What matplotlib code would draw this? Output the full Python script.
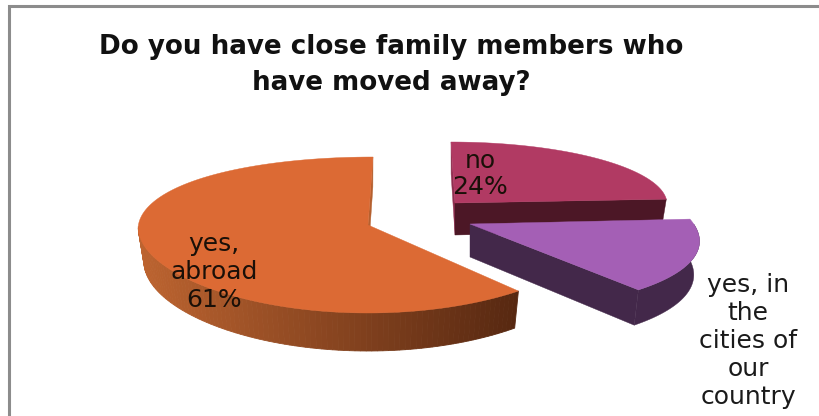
import numpy as np
import matplotlib
matplotlib.use("Agg")
import matplotlib.pyplot as plt
from matplotlib.colors import to_rgb

title = "Do you have close family members who\nhave moved away?"
slices = ["no", "yes, in the cities of our country", "yes, abroad"]
values = [24, 15, 61]

top_colors = ["#b13a63", "#a45fb5", "#dc6a34"]
wall_colors = ["#4c1726", "#43284a", "#b5602f"]
inner_colors = ["#8f2f50", "#43284a", "#b5602f"]

# apex x, apex y, radius, x perspective, skew, height up, height down, depth, depth change
geom = [
    (455, 203, 212, 0.0, -4, 61, 61, 32, 0),
    (470, 224, 223.7, 0.235, 0, 70, 87.5, 33, 3),
    (368, 225, 229.6, 0.036, 5, 68, 88, 34, 4),
]

fig = plt.figure(figsize=(8.19, 4.16), dpi=100)
ax = fig.add_axes([0, 0, 1, 1])
ax.set_xlim(0, 819)
ax.set_ylim(416, 0)
ax.axis("off")

# grey chart border, runs off the picture right and bottom
ax.plot([8.5, 8.5, 830], [430, 5.5, 5.5], color="#8c8c8c", lw=2.2, solid_joinstyle="miter")


def project(g, theta, bottom=False):
    ax_, ay, r, k, sk, ht, hb, d0, d1 = g
    u = np.sin(theta)
    v = np.cos(theta)
    x = ax_ + u * r * (1 - k * v) + sk * np.maximum(v, 0)
    y = ay - (ht + hb) / 2 * v + (hb - ht) / 2 * v ** 2
    if bottom:
        x = ax_ + (x - ax_) * 0.975
        y = y + d0 - d1 * v
    return x, y


def apex(g, bottom=False):
    if bottom:
        return g[0], g[1] + g[7]
    return g[0], g[1]


def cut_wall(g, theta, color, z):
    t = np.array([theta])
    x0, y0 = project(g, t)
    x1, y1 = project(g, t, bottom=True)
    a0 = apex(g)
    a1 = apex(g, True)
    ax.fill([a0[0], x0[0], x1[0], a1[0]], [a0[1], y0[0], y1[0], a1[1]],
            color=color, lw=0.3, zorder=z)


bounds = np.radians(np.concatenate([[0], np.cumsum(values)]) * 3.6)

for i in range(len(values)):
    g = geom[i]
    z = 2 + i * 3
    th = np.linspace(bounds[i], bounds[i + 1], 160)

    # walls at the cut edges
    if i == 0:
        cut_wall(g, bounds[0], inner_colors[0], z)
        cut_wall(g, bounds[1], wall_colors[0], z)
    elif i == 1:
        cut_wall(g, bounds[2], wall_colors[1], z)
    else:
        cut_wall(g, bounds[3], inner_colors[2], z)

    # rim, only the part turned to the viewer
    if i > 0:
        front = th[np.cos(th) < 0.0]
        xt, yt = project(g, front)
        xb, yb = project(g, front, bottom=True)
        if i == 1:
            ax.fill(np.r_[xt, xb[::-1]], np.r_[yt, yb[::-1]], color=wall_colors[1], lw=0.3, zorder=z)
        else:
            c_left = np.array(to_rgb("#bd6430"))
            c_right = np.array(to_rgb("#572811"))
            for j in range(len(front) - 1):
                f = np.clip((xt[j] - 137) / (520 - 137), 0, 1)
                ax.fill([xt[j], xt[j + 1], xb[j + 1], xb[j]], [yt[j], yt[j + 1], yb[j + 1], yb[j]],
                        color=c_left + (c_right - c_left) * f, lw=0.6, zorder=z)

    # top surface
    xt, yt = project(g, th)
    a0 = apex(g)
    ax.fill(np.r_[a0[0], xt], np.r_[a0[1], yt], color=top_colors[i], lw=0.3, zorder=z + 1)

font = "DejaVu Sans"
ax.text(391, 65, title, ha="center", va="center", fontsize=18.8, fontweight="bold",
        family=font, color="#111111", linespacing=1.5, zorder=20)
ax.text(480, 174, "no\n{}%".format(values[0]), ha="center", va="center", fontsize=18,
        family=font, color="#1a1008", linespacing=1.12, zorder=20)
ax.text(748, 341, "yes, in\nthe\ncities of\nour\ncountry", ha="center", va="center", fontsize=18,
        family=font, color="#1a1a1a", linespacing=1.2, zorder=20)
ax.text(214, 272, "yes,\nabroad\n{}%".format(values[2]), ha="center", va="center", fontsize=18,
        family=font, color="#1a1008", linespacing=1.2, zorder=20)

fig.savefig("out.png", dpi=100)
